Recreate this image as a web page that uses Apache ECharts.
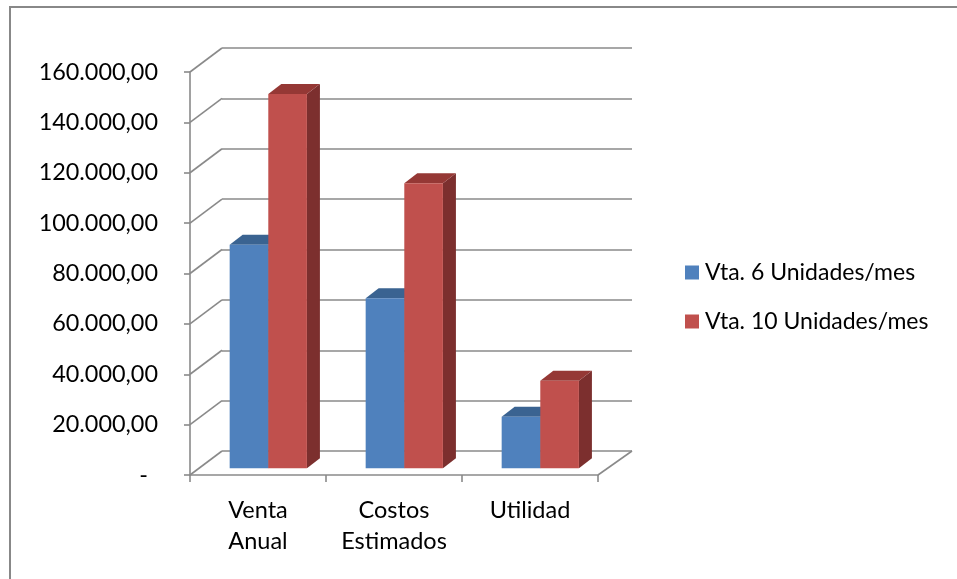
<!DOCTYPE html>
<html>
<head>
<meta charset="utf-8">
<script src="https://cdn.jsdelivr.net/npm/echarts@6/dist/echarts.min.js"></script>
<style>
  html, body { margin: 0; padding: 0; background: #fff; }
  #chart { width: 957px; height: 579px; }
</style>
</head>
<body>
<div id="chart"></div>
<script>
// ---- data ----
const categories = ['Venta\nAnual', 'Costos\nEstimados', 'Utilidad'];
const seriesNames = ['Vta. 6 Unidades/mes', 'Vta. 10 Unidades/mes'];
const vta6 = [88800, 67500, 20500];
const vta10 = [148600, 113200, 34800];
const yMin = 0, yMax = 160000, yStep = 20000;

// ---- styles ----
const FONT = 'Lato';
const GRID_COLOR = '#8a8a8a';
const palette = [
  { front: '#4F81BD', top: '#3A6391', side: '#385D8A' },
  { front: '#C0504D', top: '#953835', side: '#7C2F2E' }
];
const DEPTH = { dx: 32, dy: -24 };      // wall depth (px)
const BAR_DEPTH = { dx: 13, dy: -10 };  // bar depth (px)
const BAR_FRONT_DY = -6.7;             // bar front plane offset
const FRONT = { left: 190, top: 72, width: 408, height: 403 };

function fmt(v) {
  if (v === 0) return '{z|-}';
  const s = Math.round(v).toString().replace(/\B(?=(\d{3})+(?!\d))/g, '.');
  return s + ',00';
}

const tickValues = [];
for (let t = yMin; t <= yMax; t += yStep) tickValues.push(t);

function barRenderer(si) {
  const col = palette[si];
  return function (params, api) {
    const ci = api.value(0), v = api.value(1);
    const c0 = api.coord([ci, 0]);
    const c1 = api.coord([ci, v]);
    const band = api.size([1, 0])[0];
    const w = band * 0.284;
    const x = c0[0] + band * 0.0757 - w + si * w;
    const yb = c0[1] + BAR_FRONT_DY;
    const yt = c1[1] + BAR_FRONT_DY;
    const dx = BAR_DEPTH.dx, dy = BAR_DEPTH.dy;
    return {
      type: 'group',
      children: [
        { type: 'polygon', shape: { points: [[x + w, yt], [x + w + dx, yt + dy], [x + w + dx, yb + dy], [x + w, yb]] },
          style: { fill: col.side } },
        { type: 'polygon', shape: { points: [[x, yt], [x + w, yt], [x + w + dx, yt + dy], [x + dx, yt + dy]] },
          style: { fill: col.top } },
        { type: 'rect', shape: { x: x, y: yt, width: w, height: yb - yt },
          style: { fill: col.front } }
      ]
    };
  };
}

const chart = echarts.init(document.getElementById('chart'), null, { renderer: 'canvas' });

const option = {
  backgroundColor: '#fff',
  animation: false,
  textStyle: { fontFamily: FONT },
  graphic: [
    { type: 'rect', shape: { x: 10, y: 7, width: 1000, height: 700 },
      style: { fill: 'none', stroke: '#888', lineWidth: 2 }, z: -10 }
  ],
  legend: {
    orient: 'vertical',
    left: 680,
    top: 256,
    itemWidth: 14,
    itemHeight: 14,
    itemGap: 26,
    icon: 'rect',
    data: seriesNames,
    textStyle: { fontFamily: FONT, fontSize: 23, color: '#000', padding: [0, 0, 0, 1] }
  },
  grid: [
    { left: FRONT.left, top: FRONT.top, width: FRONT.width, height: FRONT.height },
    { left: FRONT.left + DEPTH.dx, top: FRONT.top + DEPTH.dy, width: FRONT.width + 2, height: FRONT.height }
  ],
  xAxis: [
    {
      type: 'category', gridIndex: 0, data: categories,
      axisLine: { show: true, lineStyle: { color: GRID_COLOR, width: 1.6 } },
      axisTick: { show: true, interval: 0, length: 7, lineStyle: { color: GRID_COLOR, width: 1.6 } },
      axisLabel: { color: '#000', fontFamily: FONT, fontSize: 23.5, lineHeight: 31, margin: 20,
                   interval: 0, hideOverlap: false },
      splitLine: { show: false }
    },
    {
      type: 'category', gridIndex: 1, data: categories,
      axisLine: { show: false }, axisTick: { show: false }, axisLabel: { show: false }, splitLine: { show: false }
    }
  ],
  yAxis: [
    {
      type: 'value', gridIndex: 0, min: yMin, max: yMax, interval: yStep,
      axisLine: { show: true, lineStyle: { color: GRID_COLOR, width: 1.6 } },
      axisTick: { show: true, length: 6, lineStyle: { color: GRID_COLOR, width: 1.6 } },
      axisLabel: {
        color: '#000', fontFamily: FONT, fontSize: 23.4, margin: 32,
        formatter: fmt,
        rich: { z: { fontFamily: FONT, fontSize: 23.4, color: '#000', padding: [0, 10, 0, 0] } }
      },
      splitLine: { show: false }
    },
    {
      type: 'value', gridIndex: 1, min: yMin, max: yMax, interval: yStep,
      axisLine: { show: false }, axisTick: { show: false }, axisLabel: { show: false },
      splitLine: { show: true, lineStyle: { color: GRID_COLOR, width: 1.6 } }
    }
  ],
  series: [
    {
      type: 'custom', name: 'connectors', xAxisIndex: 0, yAxisIndex: 0, z: 1, silent: true,
      data: tickValues.map(t => [0, t]),
      encode: { x: 0, y: 1 },
      renderItem: function (params, api) {
        const y = api.coord([0, api.value(1)])[1];
        const cs = params.coordSys;
        const children = [
          { type: 'line', shape: { x1: cs.x, y1: y, x2: cs.x + DEPTH.dx, y2: y + DEPTH.dy },
            style: { stroke: GRID_COLOR, lineWidth: 1.6 } }
        ];
        if (api.value(1) === yMin) {
          children.push({ type: 'line',
            shape: { x1: cs.x + cs.width, y1: y, x2: cs.x + cs.width + DEPTH.dx + 2, y2: y + DEPTH.dy },
            style: { stroke: GRID_COLOR, lineWidth: 1.6 } });
        }
        return { type: 'group', children: children };
      }
    },
    {
      type: 'custom', name: seriesNames[0], xAxisIndex: 0, yAxisIndex: 0, z: 2,
      itemStyle: { color: palette[0].front },
      data: vta6.map((v, i) => [i, v]),
      encode: { x: 0, y: 1 },
      renderItem: barRenderer(0)
    },
    {
      type: 'custom', name: seriesNames[1], xAxisIndex: 0, yAxisIndex: 0, z: 3,
      itemStyle: { color: palette[1].front },
      data: vta10.map((v, i) => [i, v]),
      encode: { x: 0, y: 1 },
      renderItem: barRenderer(1)
    }
  ]
};

chart.setOption(option);
</script>
</body>
</html>
